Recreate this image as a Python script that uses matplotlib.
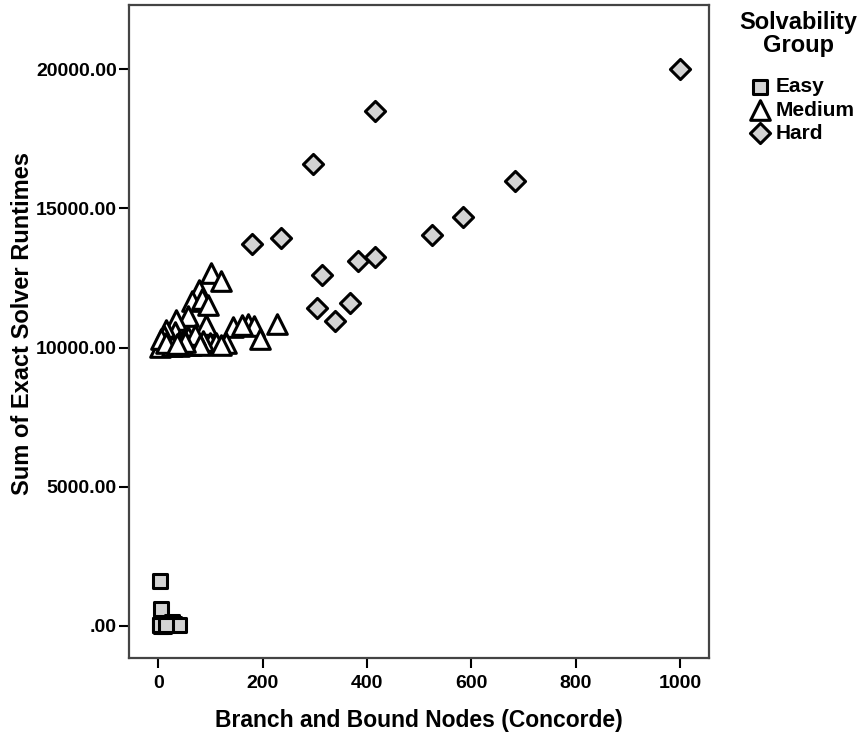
import matplotlib
matplotlib.use('Agg')
import matplotlib.pyplot as plt
from matplotlib.ticker import FuncFormatter

plt.rcParams['font.family'] = ['Liberation Sans', 'DejaVu Sans']
plt.rcParams['font.weight'] = 'bold'

# Easy group
easy_x = [3, 4, 3, 5, 25, 30, 40, 10, 2, 15]
easy_y = [1600, 600, 50, 10, 150, 60, 30, 0, 20, 40]

# Medium group
med_x = [100, 119, 77, 65, 84, 94, 56, 33, 92, 142, 171, 184, 228, 194, 130, 98,
         56, 31, 6, 21, 40, 75, 110, 15, 2, 10, 48, 62, 85, 120, 160, 25, 5, 70,
         40, 80, 15, 50, 35]
med_y = [12673, 12386, 12062, 11668, 11740, 11524, 11129, 10985, 10806, 10734,
         10842, 10770, 10842, 10303, 10160, 10160, 10375, 10555, 10088, 10267,
         10200, 10160, 10150, 10626, 10020, 10400, 10300, 10100, 10250, 10100,
         10800, 10050, 10300, 10450, 10050, 10080, 10150, 10200, 10120]

# Hard group
hard_x = [1000, 416, 297, 683, 583, 524, 180, 234, 416, 382, 313, 367, 303, 338]
hard_y = [20000, 18490, 16586, 15976, 14683, 14037, 13714, 13929, 13247, 13104,
          12601, 11596, 11416, 10950]

fig = plt.figure(figsize=(8.64, 7.41), dpi=100)
ax = fig.add_axes([0.149, 0.112, 0.672, 0.881])

ax.scatter(easy_x, easy_y, marker='s', s=95, facecolor='#d3d3d3',
           edgecolor='black', linewidth=2.2, label='Easy', zorder=3)
ax.scatter(med_x, med_y, marker='^', s=200, facecolor='white',
           edgecolor='black', linewidth=2.2, label='Medium', zorder=3)
ax.scatter(hard_x, hard_y, marker='D', s=105, facecolor='#d3d3d3',
           edgecolor='black', linewidth=2.2, label='Hard', zorder=3)

ax.set_xlim(-57, 1056)
ax.set_ylim(-1150, 22300)
ax.set_xticks([0, 200, 400, 600, 800, 1000])
ax.set_yticks([0, 5000, 10000, 15000, 20000])


def fmt(v, pos):
    s = '%.2f' % v
    return s[1:] if s.startswith('0') else s


ax.yaxis.set_major_formatter(FuncFormatter(fmt))
ax.tick_params(axis='both', direction='out', length=7.5, width=1.5, labelsize=14)
ax.tick_params(axis='x', pad=5)
ax.tick_params(axis='y', pad=1)
for sp in ax.spines.values():
    sp.set_linewidth(1.6)
    sp.set_color('#444444')

ax.set_xlabel('Branch and Bound Nodes (Concorde)', fontsize=16.5, fontweight='bold', labelpad=12)
ax.set_ylabel('Sum of Exact Solver Runtimes', fontsize=17, fontweight='bold')
ax.yaxis.set_label_coords(-0.164, 0.513)

# legend title drawn separately so it can be centred
fig.text(0.924, 0.985, 'Solvability\nGroup', ha='center', va='top',
         fontsize=17, fontweight='bold', multialignment='center', linespacing=1.0)
leg = ax.legend(loc='upper left', bbox_to_anchor=(1.055, 0.902), frameon=False,
                fontsize=15, handletextpad=0.25, borderaxespad=0.0,
                labelspacing=0.2, handlelength=1.0, markerscale=1.0)

fig.savefig('out.png', dpi=100)
